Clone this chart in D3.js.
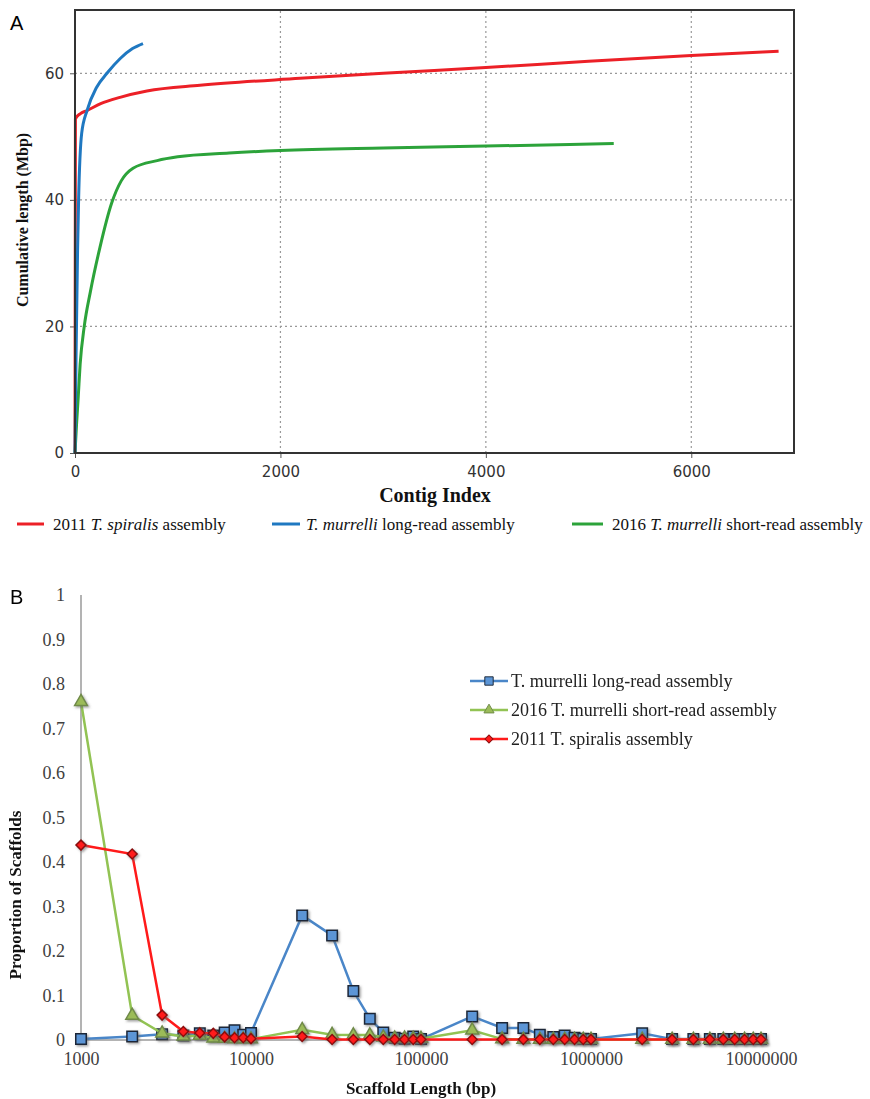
<!DOCTYPE html>
<html>
<head>
<meta charset="utf-8">
<script src="https://cdn.jsdelivr.net/npm/d3@7"></script>
<style>
  body { margin: 0; background: #fff; }
  .tickA { font-family: "DejaVu Sans", sans-serif; font-size: 15px; fill: #333; }
  .tickB { font-family: "Liberation Serif", serif; font-size: 18px; fill: #404040; }
  .serif { font-family: "Liberation Serif", serif; fill: #111; }
  .panel { font-family: "Liberation Sans", Arial, sans-serif; font-size: 20px; fill: #000; }
</style>
</head>
<body>
<div id="chart"></div>
<script>
// ---------------- Panel A data: contig index vs cumulative length (Mbp) ----------------
var spiralisIdx = [0, 4, 50, 117, 250, 438, 700, 1217, 2190, 3000, 4000, 5000, 6000, 6850];
var spiralisLen = [0, 52.8, 53.6, 54.1, 55.2, 56.2, 57.2, 58.1, 59.2, 60.0, 60.9, 61.9, 62.8, 63.5];

var longIdx = [0, 10, 25, 35, 65, 117, 211, 311, 438, 560, 662];
var longLen = [0, 15, 32, 40, 50.5, 54.1, 57.8, 60.0, 62.3, 63.9, 64.7];

var shortIdx = [0, 15, 32, 50, 90, 150, 243, 357, 450, 565, 800, 1000, 1500, 2000, 3000, 4000, 5245];
var shortLen = [0, 4.5, 9, 14, 20, 25.5, 32.5, 39.5, 43, 45, 46.2, 46.8, 47.4, 47.8, 48.2, 48.5, 48.9];

var xTicksA = [0, 2000, 4000, 6000];
var yTicksA = [0, 20, 40, 60];

// ---------------- Panel B data: scaffold length distribution ----------------
var scaffoldLen = [1000, 2000, 3000, 4000, 5000, 6000, 7000, 8000, 9000,
  10000, 20000, 30000, 40000, 50000, 60000, 70000, 80000, 90000,
  100000, 200000, 300000, 400000, 500000, 600000, 700000, 800000, 900000,
  1000000, 2000000, 3000000, 4000000, 5000000, 6000000, 7000000, 8000000, 9000000,
  10000000];
var longProp = [0.002, 0.008, 0.013, 0.010, 0.015, 0.010, 0.017, 0.022, 0.012,
  0.016, 0.280, 0.235, 0.110, 0.048, 0.017, 0.005, 0.003, 0.008,
  0.002, 0.053, 0.027, 0.027, 0.012, 0.007, 0.010, 0.005, 0.003,
  0.002, 0.015, 0.002, 0.002, 0.002, 0.002, 0.002, 0.002, 0.002,
  0.002];
var shortProp = [0.760, 0.055, 0.015, 0.008, 0.010, 0.004, 0.003, 0.002, 0.002,
  0.002, 0.023, 0.012, 0.011, 0.011, 0.006, 0.004, 0.004, 0.003,
  0.003, 0.022, 0.002, 0.001, 0.001, 0.001, 0.001, 0.001, 0.001,
  0.001, 0.001, 0.001, 0.001, 0.001, 0.001, 0.001, 0.001, 0.001,
  0.001];
var spiralisProp = [0.438, 0.418, 0.056, 0.019, 0.016, 0.015, 0.007, 0.005, 0.005,
  0.003, 0.008, 0.001, 0.001, 0.001, 0.001, 0.001, 0.001, 0.001,
  0.001, 0.001, 0.001, 0.001, 0.001, 0.001, 0.001, 0.001, 0.001,
  0.001, 0.001, 0.001, 0.001, 0.001, 0.001, 0.001, 0.001, 0.001,
  0.001];

var xTicksB = [1000, 10000, 100000, 1000000, 10000000];
var yTicksB = [0, 0.1, 0.2, 0.3, 0.4, 0.5, 0.6, 0.7, 0.8, 0.9, 1];

var W = 870, H = 1099;

var svg = d3.select("#chart")
	.append("svg")
	.attr("width", W)
	.attr("height", H);

var defs = svg.append("defs");
var shadow = defs.append("filter").attr("id", "shadow")
	.attr("x", "-50%").attr("y", "-50%").attr("width", "200%").attr("height", "200%");
shadow.append("feDropShadow")
	.attr("dx", 1.5).attr("dy", 1.5).attr("stdDeviation", 1)
	.attr("flood-color", "#666").attr("flood-opacity", 0.6);

///////////////////////////////////////////////////////////////////////////
/////////////////////////////// Panel A ///////////////////////////////////
///////////////////////////////////////////////////////////////////////////

var xA = d3.scaleLinear().domain([0, 7000]).range([75, 794]);
var yA = d3.scaleLinear().domain([0, 70]).range([453, 10]);

var gA = svg.append("g");

// dotted grid
gA.selectAll(".gx").data(xTicksA.slice(1)).enter().append("line")
	.attr("x1", function(d) { return xA(d); }).attr("x2", function(d) { return xA(d); })
	.attr("y1", yA(0)).attr("y2", yA(70))
	.attr("stroke", "#999").attr("stroke-width", 1.2).attr("stroke-dasharray", "2,3");
gA.selectAll(".gy").data(yTicksA.slice(1)).enter().append("line")
	.attr("y1", function(d) { return yA(d); }).attr("y2", function(d) { return yA(d); })
	.attr("x1", xA(0)).attr("x2", xA(7000))
	.attr("stroke", "#999").attr("stroke-width", 1.2).attr("stroke-dasharray", "2,3");

// axes
var axA = gA.append("g").attr("transform", "translate(0," + yA(0) + ")")
	.call(d3.axisBottom(xA).tickValues(xTicksA).tickSize(5).tickPadding(6).tickFormat(d3.format("d")));
var ayA = gA.append("g").attr("transform", "translate(" + xA(0) + ",0)")
	.call(d3.axisLeft(yA).tickValues(yTicksA).tickSize(5).tickPadding(6).tickFormat(d3.format("d")));
[axA, ayA].forEach(function(a) {
	a.attr("font-family", null).attr("font-size", null);
	a.select(".domain").remove();
	a.selectAll(".tick line").attr("stroke", "#555");
	a.selectAll(".tick text").attr("class", "tickA");
});
axA.selectAll(".tick text").attr("dy", "0.85em");

var lineA = d3.line()
	.x(function(d) { return xA(d[0]); })
	.y(function(d) { return yA(d[1]); })
	.curve(d3.curveMonotoneX);

var seriesA = [
	{ idx: spiralisIdx, len: spiralisLen, color: "#ec2027" },
	{ idx: shortIdx, len: shortLen, color: "#2ca33a" },
	{ idx: longIdx, len: longLen, color: "#1f78c1" }
];
seriesA.forEach(function(s) {
	gA.append("path")
		.datum(d3.zip(s.idx, s.len))
		.attr("fill", "none")
		.attr("stroke", s.color)
		.attr("stroke-width", 3)
		.attr("d", lineA);
});

// frame
gA.append("rect")
	.attr("x", xA(0)).attr("y", yA(70))
	.attr("width", xA(7000) - xA(0)).attr("height", yA(0) - yA(70))
	.attr("fill", "none").attr("stroke", "#333").attr("stroke-width", 2);

gA.append("text").attr("class", "panel").attr("x", 10).attr("y", 30).text("A");

gA.append("text").attr("class", "serif")
	.attr("x", 435).attr("y", 502)
	.attr("text-anchor", "middle")
	.style("font-size", "20px").style("font-weight", "bold")
	.text("Contig Index");

gA.append("text").attr("class", "serif")
	.attr("transform", "translate(28,220) rotate(-90)")
	.attr("text-anchor", "middle")
	.style("font-size", "16px").style("font-weight", "bold")
	.text("Cumulative length (Mbp)");

// legend A
var legA = [
	{ color: "#ec2027", x1: 17, x2: 44, tx: 53, parts: [["2011 ", false], ["T. spiralis", true], [" assembly", false]] },
	{ color: "#1f78c1", x1: 272, x2: 300, tx: 306, parts: [["T. murrelli", true], [" long-read assembly", false]] },
	{ color: "#2ca33a", x1: 572, x2: 603, tx: 612, parts: [["2016 ", false], ["T. murrelli", true], [" short-read assembly", false]] }
];
legA.forEach(function(l) {
	gA.append("line").attr("x1", l.x1).attr("x2", l.x2).attr("y1", 524).attr("y2", 524)
		.attr("stroke", l.color).attr("stroke-width", 3);
	var t = gA.append("text").attr("class", "serif").attr("x", l.tx).attr("y", 530)
		.style("font-size", "17px");
	l.parts.forEach(function(p) {
		t.append("tspan").style("font-style", p[1] ? "italic" : "normal").text(p[0]);
	});
});

///////////////////////////////////////////////////////////////////////////
/////////////////////////////// Panel B ///////////////////////////////////
///////////////////////////////////////////////////////////////////////////

var xB = d3.scaleLog().domain([1000, 10000000]).range([81, 761]);
var yB = d3.scaleLinear().domain([0, 1]).range([1040, 595]);

var gB = svg.append("g");

gB.append("line").attr("x1", xB(1000)).attr("x2", xB(1000)).attr("y1", yB(0)).attr("y2", yB(1))
	.attr("stroke", "#9a9a9a").attr("stroke-width", 1.5);
gB.append("line").attr("x1", xB(1000)).attr("x2", 768).attr("y1", yB(0)).attr("y2", yB(0))
	.attr("stroke", "#9a9a9a").attr("stroke-width", 1.5);

var ayB = gB.append("g").attr("transform", "translate(" + xB(1000) + ",0)")
	.call(d3.axisLeft(yB).tickValues(yTicksB).tickSize(0).tickPadding(16)
		.tickFormat(function(d) { return d === 0 || d === 1 ? String(d) : d.toFixed(1); }));
var axB = gB.append("g").attr("transform", "translate(0," + yB(0) + ")")
	.call(d3.axisBottom(xB).tickValues(xTicksB).tickSize(0).tickPadding(12)
		.tickFormat(function(d) { return String(d); }));
[axB, ayB].forEach(function(a) {
	a.attr("font-family", null).attr("font-size", null);
	a.select(".domain").remove();
	a.selectAll(".tick text").attr("class", "tickB");
});

var lineB = d3.line()
	.x(function(d) { return xB(d[0]); })
	.y(function(d) { return yB(d[1]); });

var squareSym = d3.symbol().type(d3.symbolSquare).size(110);
var triSym = d3.symbol().type(d3.symbolTriangle).size(70);
var diaSym = d3.symbol().type(d3.symbolSquare).size(50);

var seriesB = [
	{ name: "T. murrelli long-read assembly", vals: longProp, color: "#4a86c8",
	  sym: squareSym, fill: "#5b95d6", stroke: "#1c2838", rot: 0 },
	{ name: "2016 T. murrelli short-read assembly", vals: shortProp, color: "#92c353",
	  sym: triSym, fill: "#9bbb59", stroke: "#6f8a48", rot: 0 },
	{ name: "2011 T. spiralis assembly", vals: spiralisProp, color: "#ff1a1a",
	  sym: diaSym, fill: "#ff1a1a", stroke: "#8a0f0f", rot: 45 }
];

seriesB.forEach(function(s) {
	var pts = d3.zip(scaffoldLen, s.vals);
	gB.append("path").datum(pts)
		.attr("fill", "none").attr("stroke", s.color).attr("stroke-width", 2.5)
		.attr("d", lineB);
	gB.append("g").attr("filter", "url(#shadow)")
		.selectAll("path").data(pts).enter().append("path")
		.attr("d", s.sym)
		.attr("transform", function(d) {
			return "translate(" + xB(d[0]) + "," + yB(d[1]) + ") rotate(" + s.rot + ")";
		})
		.attr("fill", s.fill).attr("stroke", s.stroke).attr("stroke-width", 1.5);
});

// legend B
seriesB.forEach(function(s, i) {
	var ly = 681 + i * 29;
	gB.append("line").attr("x1", 470).attr("x2", 508).attr("y1", ly).attr("y2", ly)
		.attr("stroke", s.color).attr("stroke-width", 2.5);
	gB.append("path").attr("d", s.sym)
		.attr("transform", "translate(489," + ly + ") rotate(" + s.rot + ") scale(0.8)")
		.attr("fill", s.fill).attr("stroke", s.stroke).attr("stroke-width", 1.2);
	gB.append("text").attr("class", "serif").attr("x", 511).attr("y", ly + 6)
		.style("font-size", "18px").style("fill", "#222")
		.text(s.name);
});

gB.append("text").attr("class", "panel").attr("x", 10).attr("y", 604).text("B");

gB.append("text").attr("class", "serif")
	.attr("x", 421).attr("y", 1094)
	.attr("text-anchor", "middle")
	.style("font-size", "17px").style("font-weight", "bold")
	.text("Scaffold Length (bp)");

gB.append("text").attr("class", "serif")
	.attr("transform", "translate(21,895) rotate(-90)")
	.attr("text-anchor", "middle")
	.style("font-size", "17px").style("font-weight", "bold")
	.text("Proportion of Scaffolds");
</script>
</body>
</html>
